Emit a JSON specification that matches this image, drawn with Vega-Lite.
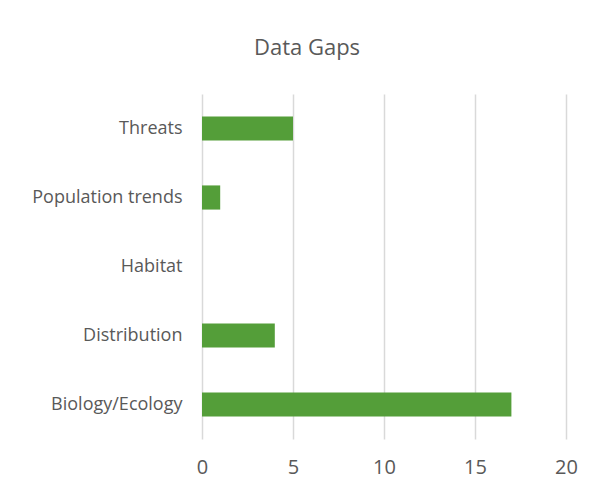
{
  "$schema": "https://vega.github.io/schema/vega-lite/v6.json",
  "autosize": {"type": "none"},
  "width": 364,
  "height": 345,
  "padding": {"left": 202, "top": 94, "right": 34, "bottom": 56},
  "background": "white",
  "title": {
    "text": "Data Gaps",
    "font": "Open Sans",
    "fontSize": 22,
    "fontWeight": "normal",
    "color": "#595959",
    "anchor": "middle",
    "dx": -77,
    "offset": 34
  },
  "data": {
    "values": [
      {"category": "Threats", "count": 5},
      {"category": "Population trends", "count": 1},
      {"category": "Habitat", "count": 0},
      {"category": "Distribution", "count": 4},
      {"category": "Biology/Ecology", "count": 17}
    ]
  },
  "mark": {"type": "bar", "color": "#549E39"},
  "encoding": {
    "y": {
      "field": "category",
      "type": "nominal",
      "sort": null,
      "title": null,
      "scale": {"paddingInner": 0.65, "paddingOuter": 0.325},
      "axis": {
        "domain": false,
        "ticks": false,
        "labelFont": "Open Sans",
        "labelFontSize": 18,
        "labelColor": "#595959",
        "labelPadding": 20,
        "labelLimit": 300
      }
    },
    "x": {
      "field": "count",
      "type": "quantitative",
      "title": null,
      "scale": {"domain": [0, 20], "nice": false},
      "axis": {
        "values": [0, 5, 10, 15, 20],
        "domain": false,
        "ticks": false,
        "grid": true,
        "gridColor": "#d9d9d9",
        "gridWidth": 1.5,
        "labelFlush": false,
        "labelFont": "Open Sans",
        "labelFontSize": 20,
        "labelColor": "#595959",
        "labelPadding": 18
      }
    }
  },
  "config": {"view": {"stroke": null}}
}
